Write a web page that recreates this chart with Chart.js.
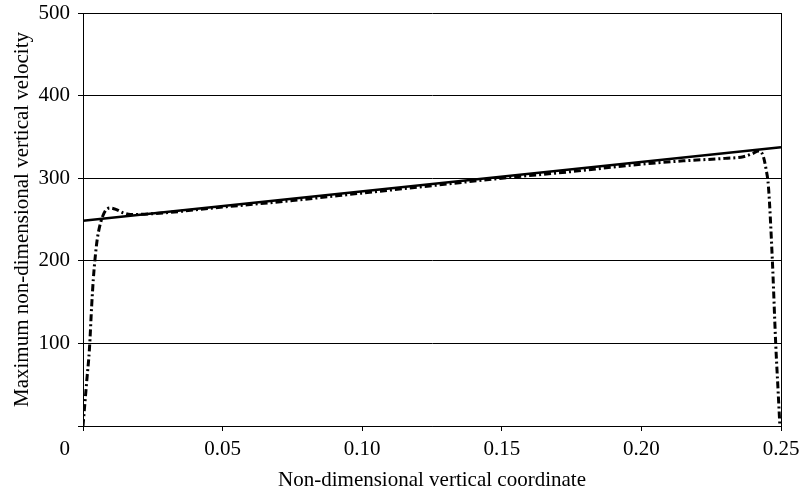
<!DOCTYPE html>
<html>
<head>
<meta charset="utf-8">
<script src="https://cdn.jsdelivr.net/npm/chart.js@4.4.1/dist/chart.umd.min.js"></script>
<style>
  html, body { margin: 0; padding: 0; background: #fff; }
</style>
</head>
<body>
<canvas id="chart" width="799" height="490"></canvas>
<script>
// ====== DATA ======
const xTicks = [0, 0.05, 0.10, 0.15, 0.20, 0.25];
const xTickLabels = ["0", "0.05", "0.10", "0.15", "0.20", "0.25"];
const yTicks = [0, 100, 200, 300, 400, 500];
const yTickLabels = ["0", "100", "200", "300", "400", "500"];

// straight reference line
const lineX = [0, 0.25];
const lineY = [248.5, 337.5];

// computed profile (dash-dot curve)
const curveX = [0, 0.0013, 0.0023, 0.0031, 0.0037, 0.0043, 0.0051, 0.0063, 0.0079, 0.0097,
  0.012, 0.0145, 0.017, 0.025, 0.05, 0.075, 0.10, 0.125, 0.15, 0.175, 0.20, 0.215,
  0.230, 0.2365, 0.240, 0.2419, 0.2435, 0.2447, 0.2455, 0.2469, 0.2481, 0.2490, 0.2496];
const curveY = [0, 53, 93, 145, 178, 202, 226, 246, 260, 264,
  262, 258, 256, 257, 265, 273, 282, 291, 300, 308, 317, 321,
  324, 326, 330, 333, 328, 310, 290, 201, 100, 40, 0];

// ====== STYLE ======
const serif = "'Liberation Serif', 'Times New Roman', serif";
const tickFont = { family: serif, size: 21 };

const toPoints = (xs, ys) => xs.map((x, i) => ({ x: x, y: ys[i] }));

// the "0" at the bottom-left corner sits under the y labels, not under the x tick
const zeroLabel = {
  id: "zeroLabel",
  afterDraw(chart) {
    const c = chart.ctx;
    const area = chart.chartArea;
    c.save();
    c.font = tickFont.size + "px " + serif;
    c.fillStyle = "#000";
    c.textAlign = "right";
    c.textBaseline = "middle";
    c.fillText(xTickLabels[0], area.left - 13, area.bottom + 23.5);
    c.restore();
  }
};

// ====== CHART ======
const ctx = document.getElementById("chart").getContext("2d");

new Chart(ctx, {
  type: "scatter",
  data: {
    datasets: [
      {
        data: toPoints(lineX, lineY),
        showLine: true,
        borderColor: "#000",
        borderWidth: 2.5,
        pointRadius: 0
      },
      {
        data: toPoints(curveX, curveY),
        showLine: true,
        borderColor: "#000",
        borderWidth: 3,
        borderDash: [7, 3, 2, 3],
        pointRadius: 0,
        cubicInterpolationMode: "monotone"
      }
    ]
  },
  options: {
    responsive: false,
    animation: false,
    layout: { padding: { top: 13, right: 18, left: 0, bottom: 0 } },
    plugins: {
      legend: { display: false },
      tooltip: { enabled: false }
    },
    scales: {
      x: {
        type: "linear",
        min: 0,
        max: 0.25,
        afterBuildTicks: s => { s.ticks = xTicks.map(v => ({ value: v })); },
        afterFit: s => { s.height = 64; s.paddingLeft = 0; s.paddingRight = 0; },
        ticks: {
          callback: (v, i) => i === 0 ? "" : xTickLabels[i],
          font: tickFont,
          color: "#000",
          padding: 6,
          maxRotation: 0,
          autoSkip: false
        },
        grid: {
          color: c => c.index === xTicks.length - 1 ? "#000" : "rgba(0,0,0,0)",
          tickColor: "#000",
          tickLength: 5
        },
        border: { color: "#000", width: 1 },
        title: {
          display: true,
          text: "Non-dimensional vertical coordinate",
          font: { family: serif, size: 21, lineHeight: 0.8 },
          color: "#000",
          padding: { top: 0, bottom: 1 }
        }
      },
      y: {
        type: "linear",
        min: 0,
        max: 500,
        afterBuildTicks: s => { s.ticks = yTicks.map(v => ({ value: v })); },
        afterFit: s => { s.width = 83; s.paddingTop = 0; s.paddingBottom = 0; },
        ticks: {
          callback: (v, i) => i === 0 ? "" : yTickLabels[i],
          font: tickFont,
          color: "#000",
          padding: 8
        },
        grid: {
          color: "#000",
          tickColor: "#000",
          tickLength: 5
        },
        border: { color: "#000", width: 1 },
        title: {
          display: true,
          text: "Maximum non-dimensional vertical velocity",
          font: { family: serif, size: 21 },
          color: "#000",
          padding: { top: 10, bottom: 0 }
        }
      }
    }
  },
  plugins: [zeroLabel]
});
</script>
</body>
</html>
